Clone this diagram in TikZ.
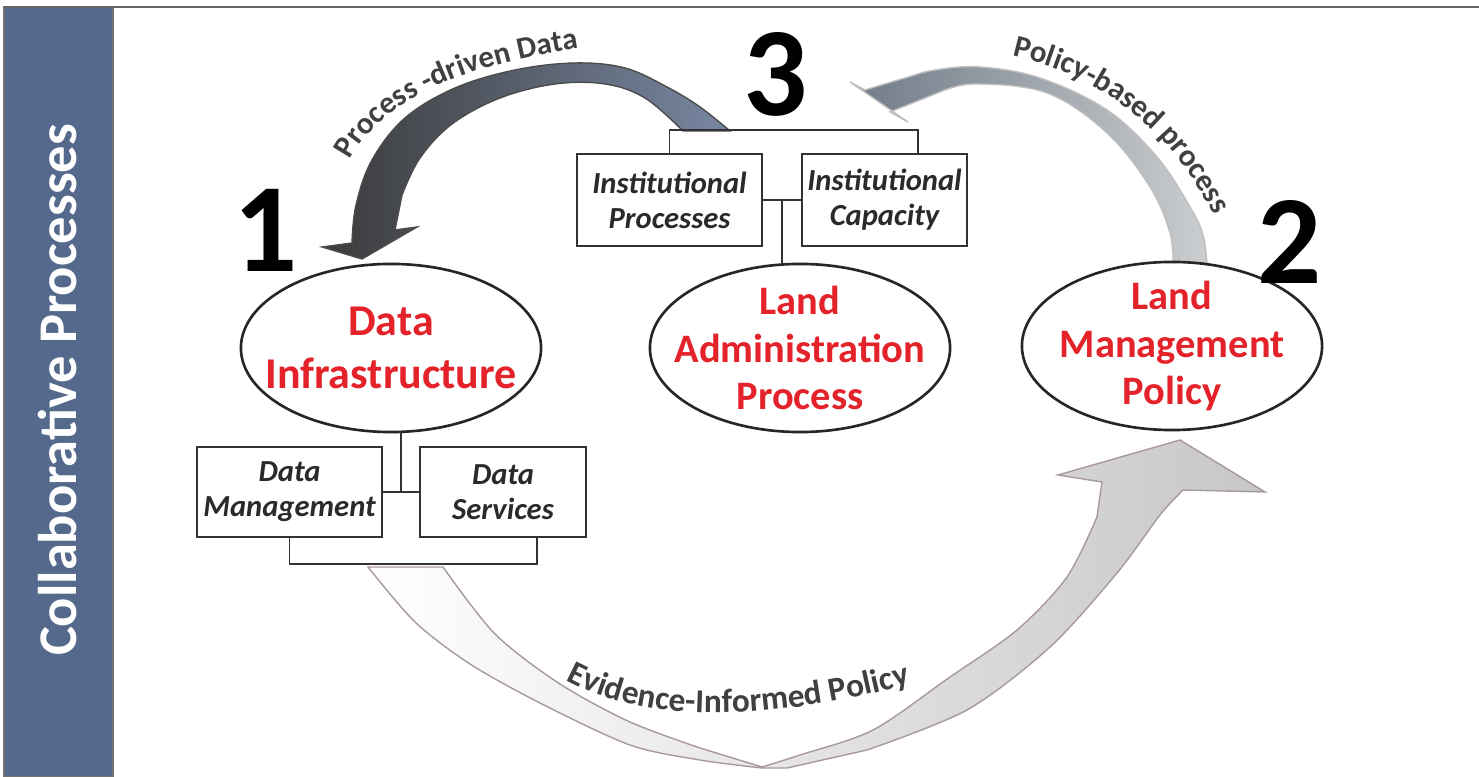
\documentclass[tikz,border=0pt]{standalone}
\usepackage{fontspec}
\setmainfont{Carlito}
\usetikzlibrary{positioning, shapes.geometric, decorations.text, calc}
\definecolor{barblue}{HTML}{55698C}
\definecolor{lared}{HTML}{E3222A}
\definecolor{boxtxt}{HTML}{2A2A2A}
\definecolor{arrtxt}{HTML}{404040}
\definecolor{darkarr}{HTML}{3A3A3A}
\definecolor{slatearr}{HTML}{7887A2}
\definecolor{polarr}{HTML}{6F7B87}
\definecolor{lightarr}{HTML}{CBCDCF}
\definecolor{evline}{HTML}{A8989F}
\tikzset{
	ellip/.style={ellipse, draw=black!85, line width=0.75pt, fill=white, minimum width=3cm, minimum height=1.68cm, inner sep=0pt, outer sep=0pt},
	ellitxt/.style={align=center, text=lared, inner sep=0pt, font=\bfseries\fontsize{11.5}{13.5}\selectfont},
	box/.style={rectangle, draw=black!80, line width=0.5pt, fill=white, minimum width=1.85cm, minimum height=0.92cm, inner sep=0pt, align=center, text=boxtxt, font=\bfseries\itshape\fontsize{8.7}{10}\selectfont},
	link/.style={draw=black!80, line width=0.5pt},
	num/.style={font=\bfseries\fontsize{36}{36}\selectfont, inner sep=0pt},
	arrlabel/.style 2 args={decorate, decoration={text along path, text align=left, text={|\bfseries\fontsize{#1}{11}\selectfont\color{arrtxt}|#2}}},
}
\begin{document}
\begin{tikzpicture}[x=0.01cm, y=-0.01cm]
	\useasboundingbox (0,0) rectangle (1479,777);
	% side bar and top rule
	\draw	[fill=barblue, draw=black!55, line width=0.6pt]	(4,7) rectangle (113,777);
	\draw	[draw=black!60, line width=0.7pt]	(4,7) -- (1479,7);
	\node	(title)	at	(58,390)	[rotate=90, text=white, font=\bfseries\fontsize{15.5}{18}\selectfont]	{Collaborative Processes};

	% fat curved arrows
	\path	[left color=darkarr, right color=slatearr, draw=black!70, line width=0.4pt]
		plot[smooth, tension=0.6] coordinates {(730,131) (700,107) (667,87) (625,68) (575,63) (515,70) (455,88) (405,118) (372,160) (356,205) (352,243)}
		-- (322,247) -- (362,259) -- (417,227) -- (395,230)
		-- plot[smooth, tension=0.6] coordinates {(402,195) (420,158) (452,124) (500,98) (555,84) (605,84) (645,98) (683,131)} -- cycle;
	\path	[left color=polarr, right color=lightarr, draw=black!25, line width=0.4pt]
		plot[smooth, tension=0.6] coordinates {(1207,265) (1203,235) (1190,207) (1157,157) (1107,110) (1040,78) (980,67) (935,70) (905,78) (865,90)}
		-- (850,82) -- (908,122) -- (890,112)
		-- plot[smooth, tension=0.6] coordinates {(940,92) (975,84) (1047,93) (1107,133) (1150,187) (1170,233) (1173,265)} -- cycle;
	\path	[left color=white, right color=black!22, draw=evline, line width=0.4pt]
		plot[smooth, tension=0.5] coordinates {(368,567) (415,622) (470,664) (540,703) (630,745) (700,760) (762,768)}
		-- (787,768)
		-- plot[smooth, tension=0.5] coordinates {(867,750) (967,710) (1050,647) (1117,573) (1160,515) (1183,490)}
		-- (1265,492) -- (1180,440) -- (1058,475) -- (1102,482)
		-- plot[smooth, tension=0.5] coordinates {(1097,517) (1067,577) (1017,630) (950,677) (873,730) (800,755) (762,767)}
		-- plot[smooth, tension=0.5] coordinates {(700,748) (630,722) (560,684) (495,634) (443,567)} -- cycle;

	% arrow labels
	\path	[arrlabel={8.8}{Process -driven Data}]	(350,160) .. controls (382,100) and (464,58) .. (640,40);
	\path	[arrlabel={8.8}{Policy-based process}]	(1012,56) .. controls (1100,76) and (1180,128) .. (1230,250);
	\path	[arrlabel={9.5}{Evidence-Informed Policy}]	(566,680) .. controls (650,725) and (780,725) .. (960,670);

	% main ellipses
	\node	[ellip]	(di)	at	(391,348)	{};
	\node	[ellitxt, font=\bfseries\fontsize{12.5}{15}\selectfont]	(di-t)	at	(di)	{Data\\Infrastructure};
	\node	[ellip]	(lap)	at	(800,348)	{};
	\node	[ellitxt]	(lap-t)	at	(lap)	{Land\\Administration\\Process};
	\node	[ellip]	(lmp)	at	(1172,346)	{};
	\node	[ellitxt]	(lmp-t)	at	(lmp)	{Land\\Management\\Policy};

	% component boxes
	\node	[box]	(ip)	at	(669.5,200)	{Institutional\\Processes};
	\node	[box, minimum width=1.65cm]	(ic)	at	(884.5,200)	{Institutional\\Capacity};
	\node	[box, minimum height=0.9cm]	(dm)	at	(289.5,492)	{Data\\Management};
	\node	[box, minimum width=1.66cm, minimum height=0.9cm]	(ds)	at	(503,492)	{Data\\Services};

	% tree links
	\coordinate	(j3)	at	($(ip.east)!0.5!(ic.west)$);
	\draw	[link]	(ip.east) -- (ic.west);
	\draw	[link]	(j3) -- (j3 |- lap.north);
	\draw	[link]	(ip.north) -- ++(0,-23) -| ([xshift=0.335cm]ic.north);
	\coordinate	(j1)	at	($(dm.east)!0.5!(ds.west)$);
	\draw	[link]	(dm.east) -- (ds.west);
	\draw	[link]	(j1) -- (j1 |- di.south);
	\draw	[link]	(dm.south) -- ++(0,26) -| ([xshift=0.34cm]ds.south);

	% step numbers
	\node	[num]	(n1)	at	(266,230)	{1};
	\node	[num]	(n3)	at	(776,74)	{3};
	\node	[num]	(n2)	at	(1290,242)	{2};
\end{tikzpicture}
\end{document}
